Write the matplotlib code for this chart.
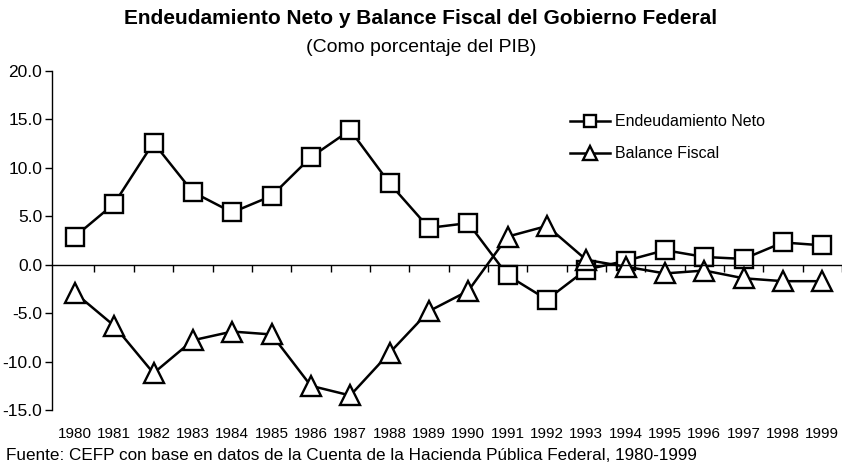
import matplotlib.pyplot as plt
from matplotlib import font_manager

# Datos (% del PIB)
anios = [str(a) for a in range(1980, 2000)]
endeudamiento = [2.9, 6.3, 12.6, 7.5, 5.4, 7.1, 11.1, 13.9, 8.4, 3.8,
                 4.3, -1.1, -3.6, -0.5, 0.4, 1.5, 0.8, 0.6, 2.3, 2.0]
balance = [-2.9, -6.3, -11.2, -7.8, -6.9, -7.2, -12.5, -13.5, -9.1, -4.8,
           -2.7, 2.9, 4.0, 0.5, -0.2, -0.9, -0.6, -1.4, -1.7, -1.7]
yticks = [20, 15, 10, 5, 0, -5, -10, -15]

narrow = 'Liberation Sans Narrow'
names = {f.name for f in font_manager.fontManager.ttflist}
if narrow not in names:
    narrow = 'Liberation Sans'

plt.rcParams['font.family'] = ['Liberation Sans', 'DejaVu Sans']

fig = plt.figure(figsize=(8.42, 4.71), dpi=100)
ax = fig.add_axes([52 / 842, 1 - 410 / 471, 790 / 842, 339 / 471])

x = list(range(len(anios)))
ax.plot(x, endeudamiento, color='black', lw=1.8, marker='s', ms=13,
        mfc='white', mec='black', mew=1.7, label='Endeudamiento Neto')
ax.plot(x, balance, color='black', lw=1.8, marker='^', ms=14,
        mfc='white', mec='black', mew=1.7, label='Balance Fiscal')

ax.set_ylim(-15, 20)
ax.set_xlim(-0.58, 19.5)
ax.set_yticks(yticks)
ax.set_yticklabels([f'{v:.1f}' for v in yticks], fontsize=12.5)

ax.spines['top'].set_visible(False)
ax.spines['right'].set_visible(False)
ax.spines['bottom'].set_position(('data', 0))
ax.spines['left'].set_linewidth(1.0)
ax.spines['bottom'].set_linewidth(1.0)

ax.set_xticks([i + 0.5 for i in range(len(anios))])
ax.set_xticklabels([])
ax.tick_params(axis='x', direction='out', length=5, width=1)
ax.tick_params(axis='y', direction='out', length=5, width=1, pad=2)

for i, a in enumerate(anios):
    ax.text(i, -0.05, a, transform=ax.get_xaxis_transform(), ha='center',
            va='top', fontsize=11, family=narrow)

ax.legend(loc='upper left', bbox_to_anchor=(556 / 842, 1 - 100 / 471),
          bbox_transform=fig.transFigure, frameon=False, markerscale=0.7,
          handlelength=2.5, handletextpad=0.3, labelspacing=1.05,
          prop={'family': narrow, 'size': 11.5})

fig.text(0.5, 1 - 18 / 471, 'Endeudamiento Neto y Balance Fiscal del Gobierno Federal',
         ha='center', va='center', fontsize=15, fontweight='bold')
fig.text(0.5, 1 - 47 / 471, '(Como porcentaje del PIB)',
         ha='center', va='center', fontsize=14)
fig.text(6 / 842, 1 - 456 / 471,
         'Fuente: CEFP con base en datos de la Cuenta de la Hacienda Pública Federal, 1980-1999',
         ha='left', va='center', fontsize=12.3)

fig.savefig('out.png', dpi=100)
